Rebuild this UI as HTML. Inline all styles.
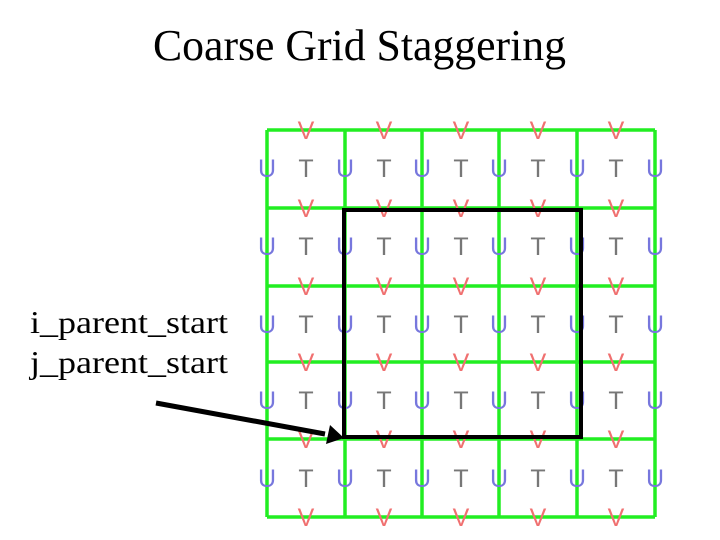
<!DOCTYPE html>
<html><head><meta charset="utf-8"><style>body{margin:0;background:#fff}svg{display:block}</style></head><body>
<svg width="720" height="540" xmlns="http://www.w3.org/2000/svg">
<rect width="720" height="540" fill="#fff"/>
<text x="153" y="60" font-family="Liberation Serif, serif" font-size="44" textLength="413" lengthAdjust="spacingAndGlyphs" fill="#000">Coarse Grid Staggering</text>
<text x="30" y="333" font-family="Liberation Serif, serif" font-size="32" textLength="198" lengthAdjust="spacingAndGlyphs" fill="#000">i_parent_start</text>
<text x="30" y="373" font-family="Liberation Serif, serif" font-size="32" textLength="198" lengthAdjust="spacingAndGlyphs" fill="#000">j_parent_start</text>
<g stroke="#22ee22" stroke-width="3.5" fill="none">
<path d="M267 130V517M345 130V517M422 130V517M499 130V517M577 130V517M655 130V517"/>
<path d="M267 130H655M267 208H655M267 286H655M267 362H655M267 439H655M267 517H655"/>
</g>
<g font-family="Liberation Sans, sans-serif" font-size="25" text-anchor="middle">
<g fill="#f07070">
<text x="306" y="139">V</text><text x="384" y="139">V</text><text x="461" y="139">V</text><text x="538" y="139">V</text><text x="616" y="139">V</text>
<text x="306" y="217">V</text><text x="384" y="217">V</text><text x="461" y="217">V</text><text x="538" y="217">V</text><text x="616" y="217">V</text>
<text x="306" y="295">V</text><text x="384" y="295">V</text><text x="461" y="295">V</text><text x="538" y="295">V</text><text x="616" y="295">V</text>
<text x="306" y="371">V</text><text x="384" y="371">V</text><text x="461" y="371">V</text><text x="538" y="371">V</text><text x="616" y="371">V</text>
<text x="306" y="448">V</text><text x="384" y="448">V</text><text x="461" y="448">V</text><text x="538" y="448">V</text><text x="616" y="448">V</text>
<text x="306" y="526">V</text><text x="384" y="526">V</text><text x="461" y="526">V</text><text x="538" y="526">V</text><text x="616" y="526">V</text>
</g>
<g fill="#7777dd">
<text x="267" y="177">U</text><text x="345" y="177">U</text><text x="422" y="177">U</text><text x="499" y="177">U</text><text x="577" y="177">U</text><text x="655" y="177">U</text>
<text x="267" y="255">U</text><text x="345" y="255">U</text><text x="422" y="255">U</text><text x="499" y="255">U</text><text x="577" y="255">U</text><text x="655" y="255">U</text>
<text x="267" y="333">U</text><text x="345" y="333">U</text><text x="422" y="333">U</text><text x="499" y="333">U</text><text x="577" y="333">U</text><text x="655" y="333">U</text>
<text x="267" y="409">U</text><text x="345" y="409">U</text><text x="422" y="409">U</text><text x="499" y="409">U</text><text x="577" y="409">U</text><text x="655" y="409">U</text>
<text x="267" y="487">U</text><text x="345" y="487">U</text><text x="422" y="487">U</text><text x="499" y="487">U</text><text x="577" y="487">U</text><text x="655" y="487">U</text>
</g>
<g fill="#777">
<text x="306" y="177">T</text><text x="384" y="177">T</text><text x="461" y="177">T</text><text x="538" y="177">T</text><text x="616" y="177">T</text>
<text x="306" y="255">T</text><text x="384" y="255">T</text><text x="461" y="255">T</text><text x="538" y="255">T</text><text x="616" y="255">T</text>
<text x="306" y="333">T</text><text x="384" y="333">T</text><text x="461" y="333">T</text><text x="538" y="333">T</text><text x="616" y="333">T</text>
<text x="306" y="409">T</text><text x="384" y="409">T</text><text x="461" y="409">T</text><text x="538" y="409">T</text><text x="616" y="409">T</text>
<text x="306" y="487">T</text><text x="384" y="487">T</text><text x="461" y="487">T</text><text x="538" y="487">T</text><text x="616" y="487">T</text>
</g>
</g>
<rect x="344" y="210" width="237" height="227" fill="none" stroke="#000" stroke-width="4"/>
<line x1="156" y1="403" x2="325" y2="434" stroke="#000" stroke-width="5"/>
<polygon points="344,438 326,444 330,425" fill="#000"/>
</svg>
</body></html>
